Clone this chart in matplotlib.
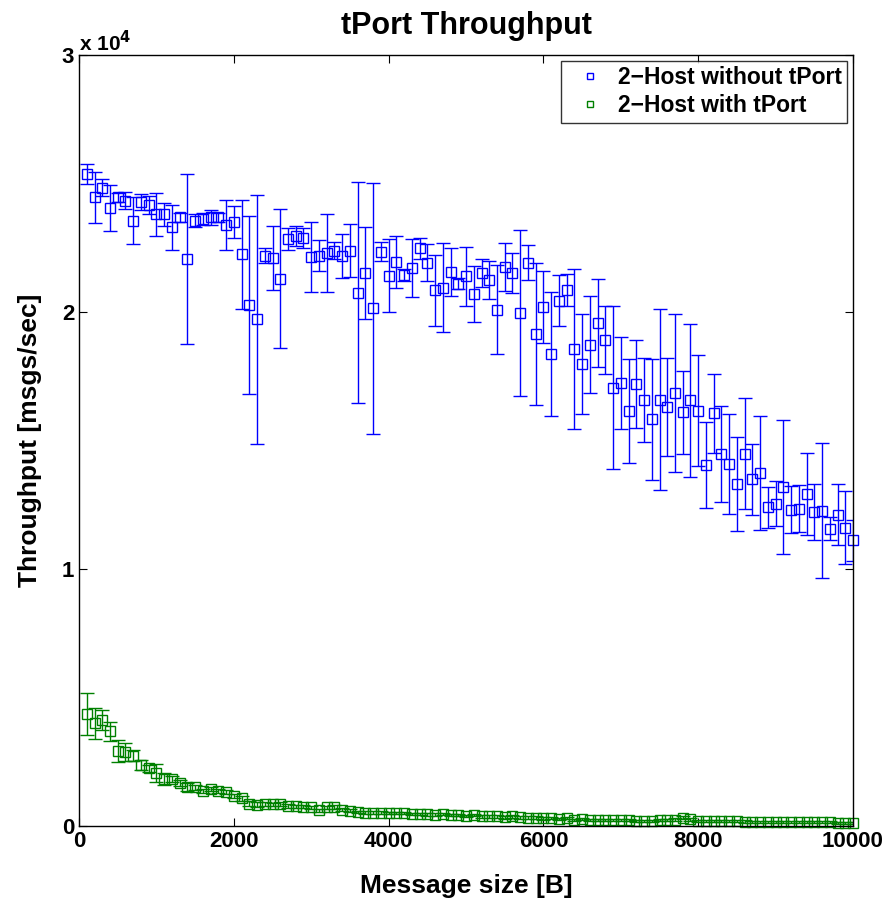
import matplotlib
matplotlib.use("Agg")
import matplotlib.pyplot as plt
import numpy as np

plt.rcParams['font.family'] = ['Liberation Sans', 'DejaVu Sans']
plt.rcParams['font.weight'] = 'bold'

# message sizes [B]
sizes = np.arange(100, 10001, 100)

# 2-Host without tPort (msgs/sec) and spread
no_tport = [25360, 24460, 24830, 24040, 24460, 24330, 23550, 24280, 24150, 23800,
            23800, 23290, 23680, 22070, 23550, 23610, 23680, 23680, 23380, 23490,
            22240, 20260, 19720, 22190, 22090, 21300, 22830, 22960, 22890, 22130,
            22190, 22280, 22390, 22170, 22390, 20750, 21520, 20140, 22350, 21410,
            21950, 21450, 21700, 22470, 21920, 20840, 20950, 21560, 21100, 21390,
            20690, 21520, 21250, 20080, 21760, 21510, 19950, 21920, 19140, 20210,
            18350, 20440, 20860, 18560, 17990, 18730, 19570, 18900, 17060, 17230,
            16150, 17190, 16580, 15830, 16580, 16300, 16850, 16100, 16560, 16160,
            14050, 16060, 14480, 14090, 13310, 14490, 13500, 13740, 12400, 12540,
            13190, 12300, 12350, 12920, 12220, 12270, 11570, 12110, 11610, 11120]
no_tport_err = [380, 990, 330, 890, 180, 340, 910, 320, 350, 840,
                450, 860, 180, 3310, 250, 230, 300, 160, 970, 620,
                2110, 3460, 4840, 300, 1240, 2700, 420, 390, 390, 1370,
                600, 1520, 330, 850, 1030, 4300, 1790, 4880, 360, 1430,
                1020, 230, 1120, 400, 710, 1380, 1730, 940, 210, 1150,
                1080, 550, 750, 1730, 940, 780, 3230, 680, 2750, 1400,
                2410, 990, 620, 3110, 1950, 1880, 1720, 1330, 3180, 1790,
                2010, 1720, 1640, 2350, 3520, 1890, 3060, 1620, 2970, 2150,
                1660, 1530, 1880, 1950, 1830, 2160, 1380, 2220, 800, 870,
                2600, 910, 930, 1590, 1100, 2620, 440, 1180, 1420, 800]

# 2-Host with tPort (msgs/sec) and spread
with_tport = [4350, 4000, 4130, 3680, 2920, 2890, 2740, 2370, 2250, 2050,
              1820, 1840, 1660, 1510, 1510, 1370, 1440, 1370, 1340, 1170,
              1080, 860, 830, 840, 840, 860, 770, 770, 750, 730,
              620, 730, 740, 640, 600, 540, 520, 520, 520, 510,
              510, 500, 470, 460, 450, 440, 470, 420, 420, 390,
              420, 380, 380, 370, 340, 380, 340, 320, 320, 300,
              310, 290, 300, 250, 270, 250, 250, 230, 220, 220,
              220, 210, 200, 210, 220, 230, 250, 320, 260, 210,
              200, 190, 190, 180, 180, 175, 170, 170, 165, 160,
              160, 155, 150, 150, 145, 140, 140, 135, 130, 130]
with_tport_err = [820, 610, 380, 380, 440, 350, 210, 200, 130, 350,
                  230, 120, 120, 150, 90, 80, 80, 80, 80, 80,
                  90, 100, 90, 80, 70, 70, 70, 60, 60, 60,
                  60, 60, 60, 60, 50, 50, 50, 50, 50, 50,
                  50, 50, 50, 50, 50, 50, 50, 50, 50, 50,
                  50, 50, 50, 50, 50, 50, 50, 50, 50, 50,
                  40, 40, 40, 40, 40, 40, 40, 40, 40, 40,
                  40, 40, 40, 40, 40, 40, 50, 60, 50, 40,
                  40, 40, 40, 40, 40, 40, 40, 40, 40, 40,
                  40, 40, 40, 40, 40, 40, 40, 40, 40, 40]

labels = ['2\u2212Host without tPort', '2\u2212Host with tPort']
colors = ['#0000ff', '#008000']

fig = plt.figure(figsize=(8.86, 9.07), dpi=100)
ax = fig.add_axes([0.0892, 0.0893, 0.8736, 0.8501])

for y, e, c in [(no_tport, no_tport_err, colors[0]), (with_tport, with_tport_err, colors[1])]:
    eb = ax.errorbar(sizes, y, yerr=e, fmt='s', mfc='none', mec=c, mew=1.0, ms=6.5,
                     ecolor=c, elinewidth=1.0, capsize=5, capthick=1.0)
    eb[0].set_clip_on(False)

# legend shows markers only
handles = [ax.plot([], [], 's', mfc='none', mec=c, ms=5, mew=1.0)[0] for c in colors]
leg = ax.legend(handles, labels, loc='upper right', fontsize=16.5, handlelength=2.0,
                handletextpad=0.2, borderpad=0.25, labelspacing=0.2, fancybox=False,
                borderaxespad=0.25, frameon=True)
leg.get_frame().set_edgecolor('black')
leg.get_frame().set_linewidth(1.0)

ax.set_xlim(0, 10000)
ax.set_ylim(0, 30000)
ax.set_xticks([0, 2000, 4000, 6000, 8000, 10000])
ax.set_yticks([0, 10000, 20000, 30000])
ax.set_yticklabels(['0', '1', '2', '3'])
ax.tick_params(direction='in', length=6, width=0.8, top=True, right=True, labelsize=16)
for s in ax.spines.values():
    s.set_linewidth(1.0)

ax.text(0.0, 1.0, r'x 10$^4$', transform=ax.transAxes, ha='left', va='bottom',
        fontsize=15, fontweight='bold')

ax.set_title('tPort Throughput', fontsize=22, fontweight='bold', pad=15)
ax.set_xlabel('Message size [B]', fontsize=19, fontweight='bold', labelpad=16)
ax.set_ylabel('Throughput [msgs/sec]', fontsize=19, fontweight='bold', labelpad=14)

fig.savefig('out.png', dpi=100)
